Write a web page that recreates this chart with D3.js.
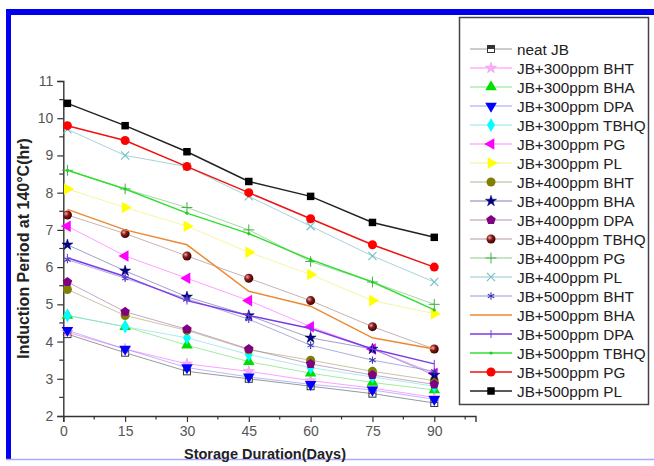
<!DOCTYPE html>
<html>
<head>
<meta charset="utf-8">
<script src="https://cdn.jsdelivr.net/npm/d3@7"></script>
<style>
  body { margin: 0; background: #fff; }
  svg { display: block; font-family: "Liberation Sans", Arial, sans-serif; }
</style>
</head>
<body>
<div id="chart"></div>
<script>
// storage days (first measurement taken on day 1)
var days = [1, 15, 30, 45, 60, 75, 90];
var xTicks = [0, 15, 30, 45, 60, 75, 90];
var yTicks = [2, 3, 4, 5, 6, 7, 8, 9, 10, 11];

var seriesNames = ["neat JB", "JB+300ppm BHT", "JB+300ppm BHA", "JB+300ppm DPA", "JB+300ppm TBHQ",
  "JB+300ppm PG", "JB+300ppm PL", "JB+400ppm BHT", "JB+400ppm BHA", "JB+400ppm DPA",
  "JB+400ppm TBHQ", "JB+400ppm PG", "JB+400ppm PL", "JB+500ppm BHT", "JB+500ppm BHA",
  "JB+500ppm DPA", "JB+500ppm TBHQ", "JB+500ppm PG", "JB+500ppm PL"];

// induction period (hr)
var neatJB  = [4.2, 3.7, 3.2, 3.0, 2.8, 2.6, 2.35];
var bht300  = [4.25, 3.8, 3.4, 3.2, 2.95, 2.75, 2.5];
var bha300  = [4.7, 4.4, 3.9, 3.46, 3.15, 2.9, 2.7];
var dpa300  = [4.3, 3.8, 3.3, 3.05, 2.85, 2.7, 2.45];
var tbhq300 = [4.7, 4.4, 4.1, 3.65, 3.3, 3.05, 2.8];
var pg300   = [7.1, 6.3, 5.7, 5.1, 4.4, 3.8, 3.15];
var pl300   = [8.1, 7.6, 7.1, 6.4, 5.8, 5.1, 4.75];
var bht400  = [5.4, 4.7, 4.3, 3.78, 3.5, 3.2, 2.95];
var bha400  = [6.6, 5.9, 5.2, 4.7, 4.1, 3.8, 3.1];
var dpa400  = [5.6, 4.8, 4.33, 3.8, 3.4, 3.1, 2.85];
var tbhq400 = [7.4, 6.9, 6.3, 5.7, 5.1, 4.4, 3.8];
var pg400   = [8.6, 8.1, 7.6, 7.0, 6.15, 5.6, 5.0];
var pl400   = [9.7, 9.0, 8.7, 7.9, 7.1, 6.3, 5.6];
var bht500  = [6.2, 5.7, 5.15, 4.6, 3.9, 3.5, 3.2];
var bha500  = [7.55, 7.0, 6.6, 5.35, 4.95, 4.1, 3.8];
var dpa500  = [6.25, 5.75, 5.1, 4.7, 4.35, 3.8, 3.4];
var tbhq500 = [8.6, 8.1, 7.45, 6.9, 6.2, 5.6, 4.85];
var pg500   = [9.8, 9.4, 8.7, 8.0, 7.3, 6.6, 6.0];
var pl500   = [10.4, 9.8, 9.1, 8.3, 7.9, 7.2, 6.8];

var seriesValues = [neatJB, bht300, bha300, dpa300, tbhq300, pg300, pl300,
  bht400, bha400, dpa400, tbhq400, pg400, pl400,
  bht500, bha500, dpa500, tbhq500, pg500, pl500];

// look of each series: marker kind, marker colour, line colour, line width
var styles = [
  {m: "halfsq",  c: "#333",    l: "#999",    w: 1,   o: 1},
  {m: "star",    c: "#ffaaff", l: "#ff88ff", w: 1,   o: 0.8},
  {m: "tri",     c: "#00e000", l: "#66dd66", w: 1,   o: 0.6},
  {m: "tridown", c: "#0000ff", l: "#8888ff", w: 1,   o: 0.6},
  {m: "diamond", c: "#00ffff", l: "#77dddd", w: 1,   o: 0.6},
  {m: "trileft", c: "#ff00ff", l: "#ff77ff", w: 1,   o: 0.7},
  {m: "triright",c: "#ffff00", l: "#eeee66", w: 1,   o: 0.6},
  {m: "circle",  c: "#808000", l: "#a0a070", w: 1,   o: 0.6},
  {m: "star",    c: "#000080", l: "#6060a0", w: 1,   o: 0.6},
  {m: "pent",    c: "#800080", l: "#a070a0", w: 1,   o: 0.6},
  {m: "sphere",  c: "#801010", l: "#a08080", w: 1,   o: 0.6},
  {m: "plus",    c: "#40b040", l: "#80c880", w: 1,   o: 0.7},
  {m: "times",   c: "#70c0c8", l: "#90c8d0", w: 1,   o: 0.8},
  {m: "aster",   c: "#3a3ab8", l: "#8a8ad0", w: 1,   o: 0.7},
  {m: "none",    c: "#ee8833", l: "#ee8833", w: 1.5, o: 1},
  {m: "vbar",    c: "#7a3ae8", l: "#7a3ae8", w: 1.5, o: 1},
  {m: "dot",     c: "#22cc22", l: "#33dd33", w: 1.5, o: 1},
  {m: "circle",  c: "#ff0000", l: "#ee1111", w: 1.5, o: 1},
  {m: "square",  c: "#000000", l: "#222222", w: 1.5, o: 1}
];

var W = 654, H = 466;
var svg = d3.select("#chart").append("svg")
    .attr("width", W)
    .attr("height", H);

var defs = svg.append("defs");
var grad = defs.append("radialGradient").attr("id", "sph")
    .attr("cx", "35%").attr("cy", "35%").attr("r", "65%");
grad.append("stop").attr("offset", "0%").attr("stop-color", "#e8b0b0");
grad.append("stop").attr("offset", "45%").attr("stop-color", "#8a1a1a");
grad.append("stop").attr("offset", "100%").attr("stop-color", "#400000");

// blue frame
svg.append("line").attr("x1", 6).attr("x2", W).attr("y1", 12).attr("y2", 12)
    .attr("stroke", "#0000ee").attr("stroke-width", 6);
svg.append("line").attr("x1", 8.5).attr("x2", 8.5).attr("y1", 9).attr("y2", 460)
    .attr("stroke", "#0000ee").attr("stroke-width", 5);
svg.append("line").attr("x1", 6).attr("x2", W).attr("y1", 459.5).attr("y2", 459.5)
    .attr("stroke", "#a8a8ff").attr("stroke-width", 1.5);

var x = d3.scaleLinear().domain([0, 100]).range([63.3, 475.5]);
var y = d3.scaleLinear().domain([2, 11]).range([416, 81]);

// axes
var xAxis = svg.append("g")
    .attr("transform", "translate(0," + y(2) + ")")
    .call(d3.axisBottom(x).tickValues(xTicks).tickSize(6).tickPadding(4));
xAxis.selectAll(".minor")
    .data(d3.range(7.5, 100, 15))
    .enter().append("line")
    .attr("x1", function(d) { return x(d); })
    .attr("x2", function(d) { return x(d); })
    .attr("y1", 0).attr("y2", 3.5);

var yAxis = svg.append("g")
    .attr("transform", "translate(" + x(0) + ",0)")
    .call(d3.axisLeft(y).tickValues(yTicks).tickSize(6).tickPadding(4));
yAxis.selectAll(".minor")
    .data(d3.range(2.5, 11, 1))
    .enter().append("line")
    .attr("y1", function(d) { return y(d); })
    .attr("y2", function(d) { return y(d); })
    .attr("x1", 0).attr("x2", -4);

svg.selectAll(".domain").attr("stroke", "#333").attr("stroke-width", 1.4);
xAxis.selectAll("line").attr("stroke", "#333").attr("stroke-width", 1.2);
yAxis.selectAll("line").attr("stroke", "#333").attr("stroke-width", 1.2);
svg.selectAll(".tick text")
    .style("font-size", "14px")
    .style("font-family", "'Liberation Sans', Arial, sans-serif")
    .attr("fill", "#555");

// axis titles
svg.append("text")
    .attr("transform", "rotate(-90)")
    .attr("x", -y(6.5))
    .attr("y", 29)
    .attr("text-anchor", "middle")
    .style("font-size", "16px")
    .style("font-weight", "bold")
    .attr("fill", "#222")
    .text("Induction Period at 140°C(hr)");

svg.append("text")
    .attr("x", 265)
    .attr("y", 459)
    .attr("text-anchor", "middle")
    .style("font-size", "14.5px")
    .style("font-weight", "bold")
    .attr("fill", "#222")
    .text("Storage Duration(Days)");

// marker drawing
function pentagonPath(r) {
  var pts = d3.range(5).map(function(i) {
    var a = -Math.PI / 2 + i * 2 * Math.PI / 5;
    return [r * Math.cos(a), r * Math.sin(a)];
  });
  return "M" + pts.join("L") + "Z";
}

function drawMarker(g, st) {
  var sym = d3.symbol();
  switch (st.m) {
    case "halfsq":
      g.append("rect").attr("x", -3.5).attr("y", -3.5).attr("width", 7).attr("height", 7)
        .attr("fill", "#fff").attr("stroke", st.c).attr("stroke-width", 1);
      g.append("rect").attr("x", -3.5).attr("y", -3.5).attr("width", 7).attr("height", 3.5)
        .attr("fill", st.c);
      break;
    case "square":
      g.append("path").attr("d", sym.type(d3.symbolSquare).size(56)()).attr("fill", st.c);
      break;
    case "circle":
      g.append("circle").attr("r", 4.5).attr("fill", st.c);
      break;
    case "sphere":
      g.append("circle").attr("r", 4.5).attr("fill", "url(#sph)");
      break;
    case "star":
      g.append("path").attr("d", sym.type(d3.symbolStar).size(38)()).attr("fill", st.c)
        .attr("stroke", d3.color(st.c).darker(0.4)).attr("stroke-width", 0.5);
      break;
    case "tri":
      g.append("path").attr("d", sym.type(d3.symbolTriangle).size(58)()).attr("fill", st.c);
      break;
    case "tridown":
      g.append("path").attr("d", sym.type(d3.symbolTriangle).size(58)()).attr("fill", st.c)
        .attr("transform", "rotate(180)");
      break;
    case "trileft":
      g.append("path").attr("d", sym.type(d3.symbolTriangle).size(58)()).attr("fill", st.c)
        .attr("transform", "rotate(-90)");
      break;
    case "triright":
      g.append("path").attr("d", sym.type(d3.symbolTriangle).size(58)()).attr("fill", st.c)
        .attr("transform", "rotate(90)");
      break;
    case "diamond":
      g.append("path").attr("d", sym.type(d3.symbolDiamond).size(55)()).attr("fill", st.c);
      break;
    case "pent":
      g.append("path").attr("d", pentagonPath(5)).attr("fill", st.c);
      break;
    case "plus":
      g.append("path").attr("d", sym.type(d3.symbolPlus).size(40)()).attr("fill", "none")
        .attr("stroke", st.c).attr("stroke-width", 1);
      break;
    case "times":
      g.append("path").attr("d", sym.type(d3.symbolTimes).size(45)()).attr("fill", "none")
        .attr("stroke", st.c).attr("stroke-width", 1.1);
      break;
    case "aster":
      g.append("path").attr("d", sym.type(d3.symbolAsterisk).size(38)()).attr("fill", "none")
        .attr("stroke", st.c).attr("stroke-width", 1.1);
      break;
    case "vbar":
      g.append("line").attr("y1", -4).attr("y2", 4).attr("stroke", st.c).attr("stroke-width", 1);
      break;
    case "dot":
      g.append("circle").attr("r", 1.6).attr("fill", st.c);
      break;
  }
}

// series
var line = d3.line()
    .x(function(d) { return x(d.day); })
    .y(function(d) { return y(d.v); });

seriesValues.forEach(function(vals, i) {
  var st = styles[i];
  var pts = vals.map(function(v, j) { return {day: days[j], v: v}; });
  var g = svg.append("g").attr("class", "series");
  g.append("path")
    .datum(pts)
    .attr("d", line)
    .attr("fill", "none")
    .attr("stroke", st.l)
    .attr("stroke-width", st.w)
    .attr("stroke-opacity", st.o);
  g.selectAll(".pt")
    .data(pts)
    .enter().append("g")
    .attr("class", "pt")
    .attr("transform", function(d) { return "translate(" + x(d.day) + "," + y(d.v) + ")"; })
    .each(function() { drawMarker(d3.select(this), st); });
});

// legend
var legend = svg.append("g");
legend.append("rect")
    .attr("x", 459.5).attr("y", 17.5)
    .attr("width", 189).attr("height", 387)
    .attr("fill", "#fff")
    .attr("stroke", "#444")
    .attr("stroke-width", 1.5);

seriesNames.forEach(function(name, i) {
  var st = styles[i];
  var ly = 49 + i * 19;
  var row = legend.append("g").attr("transform", "translate(0," + ly + ")");
  row.append("line")
    .attr("x1", 470).attr("x2", 512)
    .attr("stroke", st.l)
    .attr("stroke-width", st.w)
    .attr("stroke-opacity", Math.min(1, st.o + 0.2));
  drawMarker(row.append("g").attr("transform", "translate(491,0)"), st);
  row.append("text")
    .attr("x", 517)
    .attr("y", 5.5)
    .style("font-size", "15.3px")
    .attr("fill", "#222")
    .text(name);
});
</script>
</body>
</html>
